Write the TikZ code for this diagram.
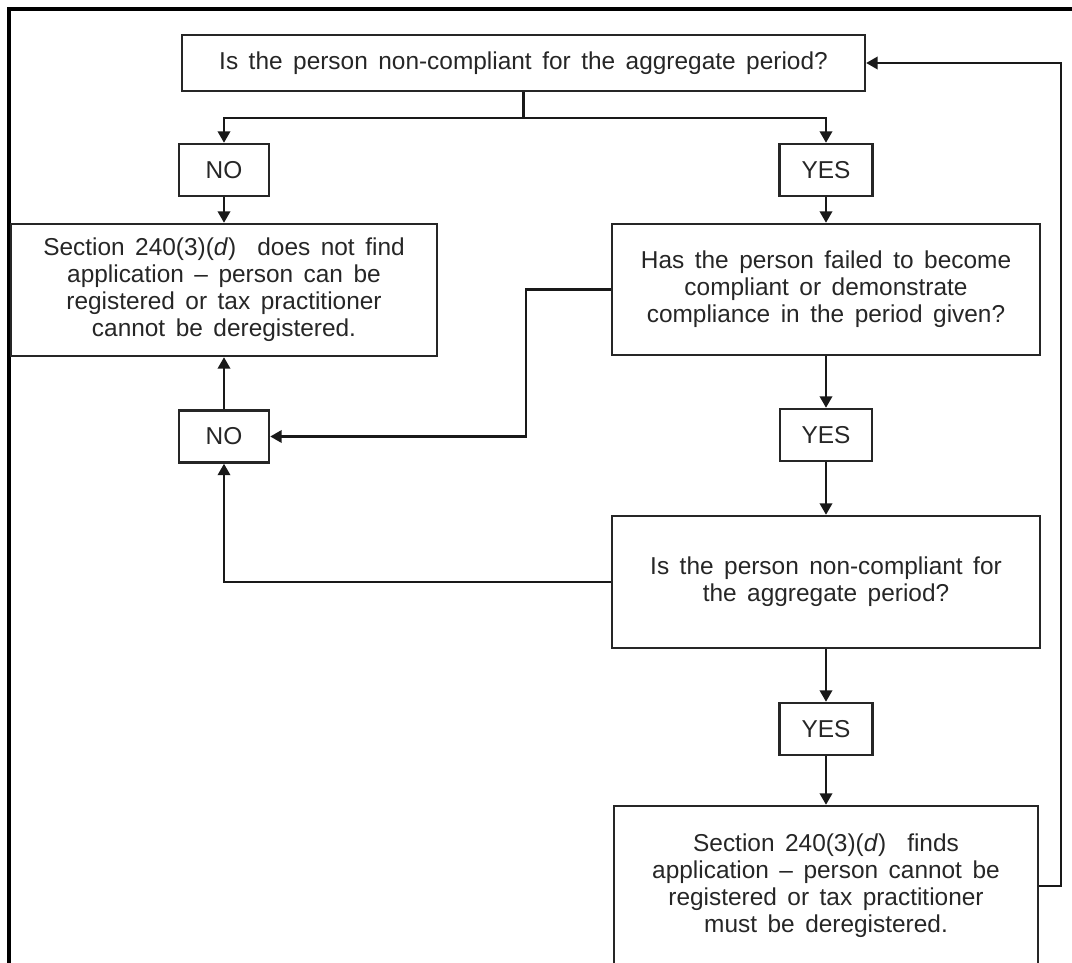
\documentclass[tikz,border=0pt]{standalone}
\usepackage{fontspec}
\setmainfont{Liberation Sans}[WordSpace=1.55]
\usetikzlibrary{arrows.meta,positioning}

\begin{document}
\begin{tikzpicture}[x=0.02cm, y=-0.02cm, font=\fontsize{13.9}{15.4}\selectfont,
  box/.style={draw=black!85, line width=1.4pt, text=black!85, align=center, inner sep=0pt},
  lbox/.style={box, minimum width=8.56cm, minimum height=2.64cm},
  sbox/.style={box, minimum width=1.8cm, minimum height=1.04cm},
  ln/.style={draw=black!90, line width=1.4pt},
  arr/.style={ln, -{Triangle[length=6.5pt,width=7pt]}}]
\useasboundingbox (0,0) rectangle (1072,963);
\clip (0,0) rectangle (1072,963);
% outer frame (top and left only)
\draw[line width=2.2pt] (9,963) -- (9,9) -- (1072,9);

\node[box, minimum width=13.66cm, minimum height=1.12cm] (q1) at (523.5,63) {Is the person non-compliant for the aggregate period?};
\node[sbox] (no1) at (224,170) {NO};
\node[sbox, minimum width=1.86cm] (yes1) at (826,170) {YES};
\node[lbox, minimum width=8.52cm] (nofind) at (224,290) {Section 240(3)(\textit{d})\ \ does not find\\ application -- person can be\\ registered or tax practitioner\\ cannot be deregistered.};
\node[lbox, minimum height=2.62cm] (q2) at (826,289.5) {Has the person failed to become\\ compliant or demonstrate\\ compliance in the period given?};
\node[sbox] (no2) at (224,436.5) {NO};
\node[sbox, minimum width=1.84cm] (yes2) at (826,435) {YES};
\node[lbox] (q3) at (826,582) {Is the person non-compliant for\\ the aggregate period?};
\node[sbox, minimum width=1.86cm] (yes3) at (826,729) {YES};
\node[lbox, minimum width=8.48cm, minimum height=3.2cm] (finds) at (826,886) {Section 240(3)(\textit{d})\ \ finds\\ application -- person cannot be\\ registered or tax practitioner\\ must be deregistered.};

\coordinate (split) at (523.5,118);
\draw[ln] (q1.south) -- (split);
\draw[arr] (split) -| (no1.north);
\draw[arr] (split) -| (yes1.north);
\draw[arr] (no1) -- (nofind);
\draw[arr] (yes1) -- (q2);
\draw[arr] (q2.west) -- ++(-85,0) |- (no2.east);
\draw[arr] (no2) -- (nofind);
\draw[arr] (q2) -- (yes2);
\draw[arr] (yes2) -- (q3);
\draw[arr] (q3.west) -| (no2.south);
\draw[arr] (q3) -- (yes3);
\draw[arr] (yes3) -- (finds);
\draw[arr] (finds.east) -- ++(22,0) |- (q1.east);
\end{tikzpicture}
\end{document}
